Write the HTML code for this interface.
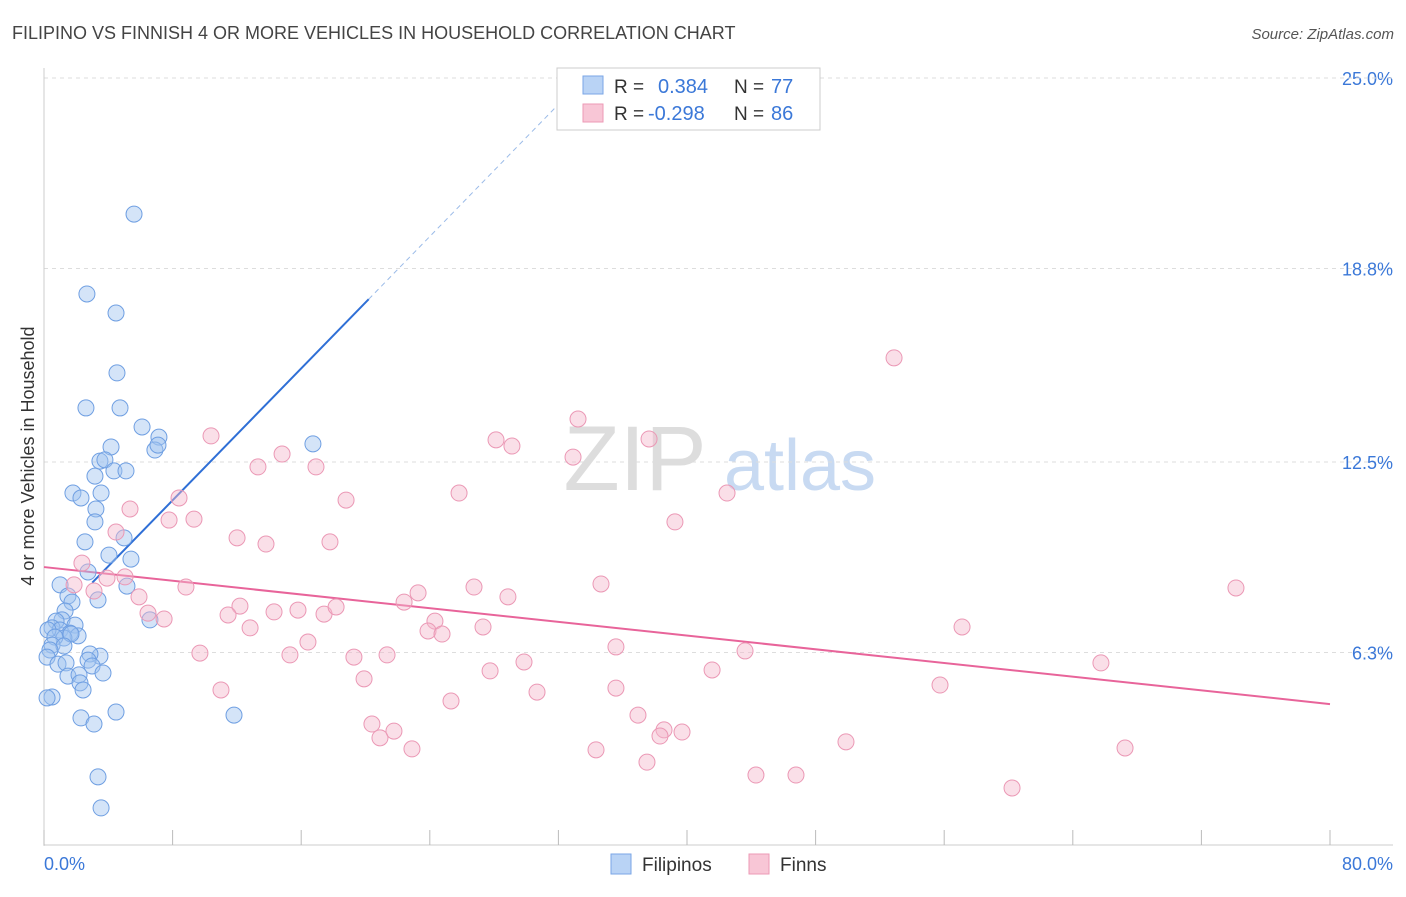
<!DOCTYPE html>
<html><head><meta charset="utf-8"><style>
body{margin:0;background:#fff;font-family:"Liberation Sans",sans-serif;}
svg text{font-family:"Liberation Sans",sans-serif;}
</style></head><body>
<svg id="chart" width="1406" height="892" xmlns="http://www.w3.org/2000/svg">
<text x="12" y="39" font-size="18" fill="#444">FILIPINO VS FINNISH 4 OR MORE VEHICLES IN HOUSEHOLD CORRELATION CHART</text>
<text x="1394" y="39" font-size="15" fill="#555" text-anchor="end" font-style="italic">Source: ZipAtlas.com</text>
<text transform="translate(34,456) rotate(-90)" font-size="18" fill="#333" text-anchor="middle">4 or more Vehicles in Household</text>
<g><text x="635" y="490" font-size="92" fill="#ddd" font-family="Liberation Serif" text-anchor="middle">ZIP</text><text x="800" y="490" font-size="72" fill="#c8daf2" text-anchor="middle">atlas</text></g>
<g id="grid"></g><g id="ticks"></g><g id="lines"></g><g id="pts"></g>
<g>
<rect x="557" y="68" width="263" height="62" fill="#fff" stroke="#ccc"/>
<rect x="583" y="76" width="20" height="18" fill="#b9d3f5" stroke="#7aa6e6"/>
<text x="614" y="93" font-size="19" fill="#333">R =</text><text x="658" y="93" font-size="20" fill="#3b78d8">0.384</text><text x="734" y="93" font-size="19" fill="#333">N =</text><text x="771" y="93" font-size="20" fill="#3b78d8">77</text>
<rect x="583" y="104" width="20" height="18" fill="#f8c6d6" stroke="#ec9ab6"/>
<text x="614" y="120" font-size="19" fill="#333">R =</text><text x="648" y="120" font-size="20" fill="#3b78d8">-0.298</text><text x="734" y="120" font-size="19" fill="#333">N =</text><text x="771" y="120" font-size="20" fill="#3b78d8">86</text>
</g>
<g>
<rect x="611" y="854" width="20" height="20" fill="#b9d3f5" stroke="#7aa6e6"/>
<text x="642" y="871" font-size="19" fill="#333">Filipinos</text>
<rect x="749" y="854" width="20" height="20" fill="#f8c6d6" stroke="#ec9ab6"/>
<text x="780" y="871" font-size="19" fill="#333">Finns</text>
</g>
</svg>
<script>
const yTicks=[6.3,12.5,18.8,25.0];
const yTickLabels=["6.3%","12.5%","18.8%","25.0%"];
const xTickVals=[0,8,16,24,32,40,48,56,64,72,80];
const xLabels=["0.0%","80.0%"];
const blueX=[5.6,2.67,4.48,4.54,2.61,4.73,6.1,7.15,6.9,7.09,16.73,4.17,3.48,3.79,4.35,5.1,3.17,1.8,3.55,2.3,3.23,3.17,2.55,4.98,4.04,5.41,2.74,1.0,5.16,1.49,3.36,1.74,1.31,1.12,0.75,6.59,1.93,0.5,1.0,0.25,1.62,2.12,1.24,0.68,1.68,0.5,1.24,0.37,3.48,2.86,2.74,0.19,0.87,1.37,2.99,3.67,1.49,2.18,2.24,2.43,0.5,0.19,2.3,4.48,3.11,11.82,3.36,3.55];
const blueY=[20.57,17.97,17.35,15.4,14.26,14.26,13.64,13.31,12.89,13.05,13.09,12.99,12.53,12.57,12.21,12.21,12.04,11.49,11.49,11.33,10.97,10.55,9.9,10.03,9.47,9.34,8.92,8.5,8.46,8.14,8.01,7.94,7.65,7.36,7.32,7.36,7.19,7.1,7.03,7.03,6.93,6.84,6.77,6.8,6.9,6.54,6.51,6.38,6.18,6.25,6.05,6.15,5.92,5.96,5.86,5.63,5.53,5.57,5.31,5.08,4.85,4.82,4.17,4.36,3.97,4.26,2.25,1.24];
const pinkX=[52.88,33.22,37.64,28.12,29.11,10.39,14.81,13.31,16.92,32.91,8.4,25.82,18.79,42.49,7.78,9.33,39.25,4.48,5.35,12.01,13.81,17.79,2.36,5.04,3.92,1.87,3.11,8.83,26.75,34.65,28.86,74.15,5.91,23.27,6.47,22.4,7.47,12.19,14.31,15.8,17.42,18.17,11.45,12.82,24.32,23.89,24.76,27.31,57.11,16.42,35.58,43.61,9.7,15.3,19.28,21.34,29.86,65.75,27.75,41.56,19.91,11.01,30.67,35.58,55.74,25.32,36.95,20.4,21.77,38.57,38.32,39.69,20.9,34.34,22.89,49.89,67.25,37.51,44.29,46.78,60.22];
const pinkY=[15.89,13.9,13.25,13.22,13.02,13.35,12.76,12.34,12.34,12.66,11.33,11.49,11.26,11.49,10.61,10.64,10.55,10.22,10.97,10.03,9.83,9.9,9.21,8.76,8.72,8.5,8.3,8.43,8.43,8.53,8.11,8.4,8.11,8.24,7.58,7.94,7.39,7.81,7.62,7.68,7.55,7.78,7.52,7.1,7.32,7.0,6.9,7.13,7.13,6.64,6.48,6.35,6.28,6.22,6.15,6.22,5.99,5.96,5.7,5.73,5.44,5.08,5.01,5.14,5.24,4.72,4.26,3.97,3.74,3.78,3.58,3.71,3.52,3.13,3.16,3.39,3.19,2.73,2.31,2.31,1.89];
const blueTrend=[[3.0,20.2],[8.57,17.8]];
const blueDash=[[20.2,32.3],[17.8,24.3]];
const pinkTrend=[[0,80],[9.08,4.62]];
const X=v=>44+v*16.075, Y=v=>846-v*30.72;
const NS="http://www.w3.org/2000/svg";
function mk(tag,attrs,parent){const e=document.createElementNS(NS,tag);for(const k in attrs)e.setAttribute(k,attrs[k]);document.getElementById(parent).appendChild(e);return e;}
yTicks.forEach((t,i)=>{
 const l=mk('line',{x1:44,x2:1393,y1:Y(t),y2:Y(t),stroke:'#ddd','stroke-dasharray':'4,4'},'grid');
 
 
 const tx=mk('text',{x:1393,y:Y(t)+7,'font-size':18,fill:'#3b78d8','text-anchor':'end'},'grid');
 tx.textContent=yTickLabels[i];
 
 
});
const topLine=mk('line',{x1:44,x2:1393,y1:78,y2:78,stroke:'#ddd','stroke-dasharray':'4,4'},'grid');


const ya=mk('line',{x1:44,x2:44,y1:68,y2:846,stroke:'#ccc'},'ticks');


const xa=mk('line',{x1:44,x2:1393,y1:845,y2:845,stroke:'#ccc'},'ticks');


xTickVals.forEach(v=>{
 const t=mk('line',{x1:X(v),x2:X(v),y1:830,y2:845,stroke:'#bbb'},'ticks');
 
 
});
const xl0=mk('text',{x:44,y:870,'font-size':18,fill:'#3b78d8'},'ticks');
xl0.textContent=xLabels[0];


const xl1=mk('text',{x:1393,y:870,'font-size':18,fill:'#3b78d8','text-anchor':'end'},'ticks');
xl1.textContent=xLabels[1];


blueX.forEach((v,i)=>{
 const c=mk('circle',{cx:X(v),cy:Y(blueY[i]),r:8,fill:'rgba(160,195,240,0.45)',stroke:'#6f9fe2','stroke-width':1},'pts');
 
 
});
pinkX.forEach((v,i)=>{
 const c=mk('circle',{cx:X(v),cy:Y(pinkY[i]),r:8,fill:'rgba(245,185,205,0.45)',stroke:'#eb98b5','stroke-width':1},'pts');
 
 
});
const bl=mk('line',{x1:X(blueTrend[0][0]),x2:X(blueTrend[0][1]),y1:Y(blueTrend[1][0]),y2:Y(blueTrend[1][1]),stroke:'#2f6fd6','stroke-width':2},'lines');


const bd=mk('line',{x1:X(blueDash[0][0]),x2:X(blueDash[0][1]),y1:Y(blueDash[1][0]),y2:Y(blueDash[1][1]),stroke:'#9bbbe8','stroke-width':1,'stroke-dasharray':'5,4'},'lines');


const pl=mk('line',{x1:X(pinkTrend[0][0]),x2:X(pinkTrend[0][1]),y1:Y(pinkTrend[1][0]),y2:Y(pinkTrend[1][1]),stroke:'#e8649a','stroke-width':2},'lines');


</script>
</body></html>
